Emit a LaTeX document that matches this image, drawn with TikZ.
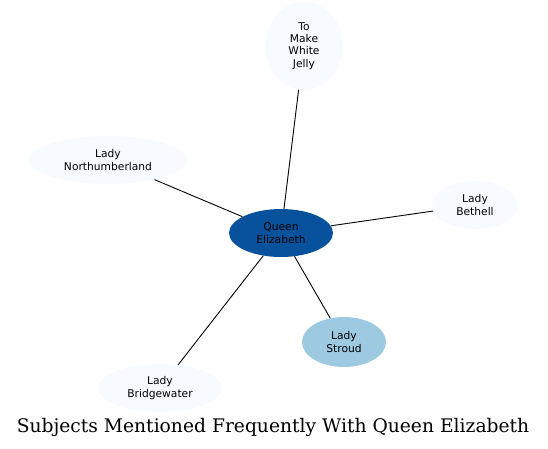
\documentclass[tikz,border=0pt]{standalone}
\usepackage{fontspec}
\setmainfont{DejaVu Serif}
\setsansfont{DejaVu Sans}
\usepackage{tikz}
\usetikzlibrary{shapes.geometric, positioning}

\definecolor{bluepale}{HTML}{F7FBFF}
\definecolor{bluemid}{HTML}{9ECAE1}
\definecolor{bluedark}{HTML}{08519C}

\begin{document}
\begin{tikzpicture}[
    x=1pt, y=1pt,
    subj/.style={ellipse, fill=bluepale, inner sep=0pt, align=center,
        font=\sffamily\fontsize{10.7}{12.3}\selectfont},
    every edge/.style={draw, line width=0.9pt}
]
\useasboundingbox (0,0) rectangle (548,449);

% Central subject
\node[subj, fill=bluedark, minimum width=104, minimum height=48] (QE) at (281, 216) {Queen\\Elizabeth};

% Related subjects
\node[subj, minimum width=78, minimum height=88] (Jelly) at (304, 403) {To\\Make\\White\\Jelly};
\node[subj, minimum width=158, minimum height=48] (North) at (108, 289) {Lady\\Northumberland};
\node[subj, minimum width=86, minimum height=48] (Bethell) at (475, 244) {Lady\\Bethell};
\node[subj, fill=bluemid, minimum width=84, minimum height=50] (Stroud) at (344, 107) {Lady\\Stroud};
\node[subj, minimum width=124, minimum height=48] (Bridge) at (160, 61) {Lady\\Bridgewater};

% Title
\node[font=\fontsize{18.7}{22}\selectfont] (title) at (273, 22) {Subjects Mentioned Frequently With Queen Elizabeth};

% Links to the central subject
\path (QE) edge (Jelly);
\path (QE) edge (North);
\path (QE) edge (Bethell);
\path (QE) edge (Stroud);
\path (QE) edge (Bridge);

\end{tikzpicture}
\end{document}
